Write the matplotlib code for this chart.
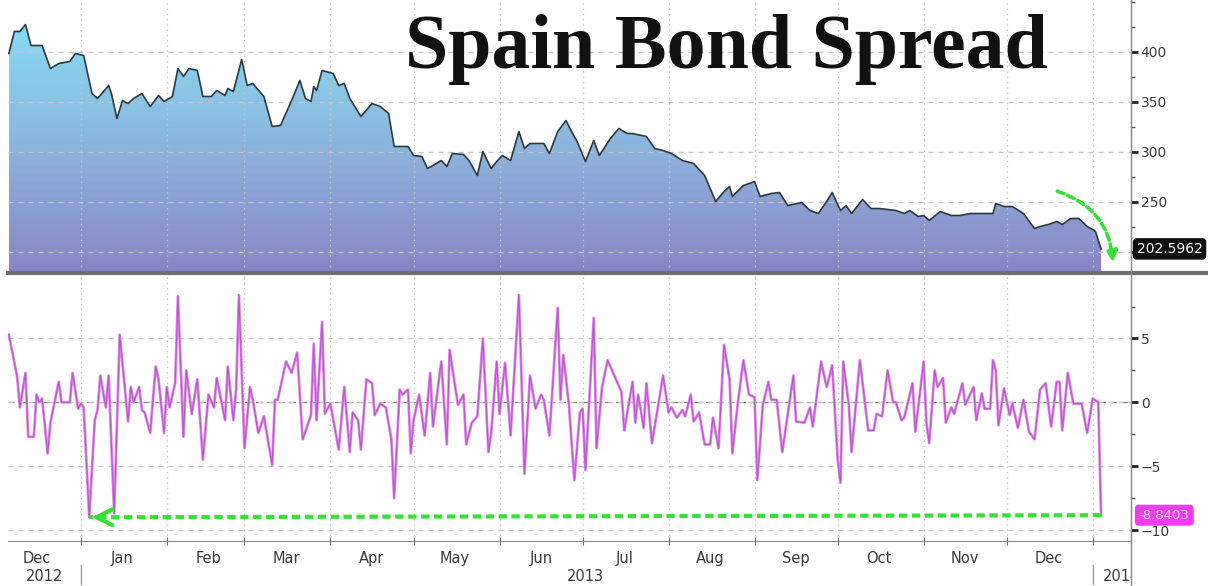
import matplotlib
matplotlib.use("Agg")
import matplotlib.pyplot as plt
import matplotlib.dates as mdates
import numpy as np
import pandas as pd
from matplotlib.colors import LinearSegmentedColormap
from matplotlib.lines import Line2D
from matplotlib.ticker import MultipleLocator, FixedLocator, NullFormatter, FuncFormatter
from matplotlib.transforms import Bbox, TransformedBbox, blended_transform_factory

start = pd.Timestamp("2013-01-01")

# Spain bond spread (bp), day numbers counted from 1 Jan 2013
spread_day = [-26, -24, -22, -20, -18, -14, -11, -8, -4, -2,
              1, 4, 6, 10, 11, 13, 15, 17, 19, 22,
              25, 28, 30, 33, 35, 37, 39, 42, 44, 47,
              49, 52, 53, 55, 58, 60, 62, 66, 69, 72,
              76, 79, 81, 83, 84, 85, 87, 91, 93, 95,
              97, 101, 105, 108, 111, 113, 118, 120, 123, 125,
              127, 130, 132, 134, 138, 140, 143, 145, 148, 150,
              152, 155, 158, 160, 162, 167, 169, 172, 175, 177,
              179, 182, 185, 187, 191, 194, 197, 199, 204, 207,
              210, 213, 217, 221, 225, 229, 232, 234, 235, 239,
              243, 245, 249, 252, 255, 260, 263, 266, 269, 271,
              274, 276, 278, 282, 285, 288, 291, 294, 297, 299,
              302, 304, 306, 310, 314, 317, 321, 324, 329, 330,
              333, 336, 340, 344, 346, 349, 352, 354, 357, 360,
              363, 365, 366, 368]
spread_bp = [398, 420, 420, 427, 406, 406, 383, 388, 390, 398,
             396, 358, 353, 366, 358, 333, 351, 348, 353, 358,
             345, 356, 350, 355, 383, 375, 383, 381, 355, 355,
             361, 356, 363, 360, 392, 366, 368, 355, 325, 326,
             351, 371, 353, 350, 365, 361, 381, 378, 366, 368,
             353, 335, 348, 345, 338, 305, 305, 296, 295, 283,
             286, 291, 285, 298, 297, 291, 276, 300, 283, 290,
             296, 291, 320, 303, 308, 308, 298, 320, 331, 320,
             310, 290, 311, 296, 313, 323, 318, 318, 315, 303,
             301, 298, 291, 288, 276, 250, 260, 265, 255, 266,
             270, 255, 258, 259, 246, 249, 241, 238, 250, 259,
             241, 246, 238, 252, 243, 243, 242, 241, 238, 241,
             235, 236, 231, 240, 236, 236, 238, 238, 238, 248,
             245, 245, 238, 223, 225, 227, 230, 227, 233, 233,
             225, 222, 220, 202.5962]

# daily change (bp)
change_day = [-26, -23, -22, -20, -19, -17, -16, -15, -14, -12,
              -11, -8, -7, -4, -3, -1, 0, 1, 3, 5,
              6, 7, 9, 10, 12, 14, 17, 18, 19, 21,
              22, 23, 25, 27, 28, 30, 31, 32, 34, 35,
              37, 38, 40, 42, 44, 46, 48, 49, 52, 53,
              55, 56, 57, 59, 61, 62, 64, 66, 69, 70,
              71, 74, 76, 78, 80, 83, 84, 85, 87, 88,
              90, 93, 95, 97, 98, 100, 101, 103, 105, 106,
              108, 110, 112, 113, 115, 116, 118, 119, 120, 122,
              124, 126, 127, 130, 132, 133, 136, 138, 139, 141,
              143, 145, 147, 148, 150, 151, 153, 155, 158, 160,
              162, 164, 166, 167, 169, 172, 173, 174, 176, 178,
              180, 181, 182, 185, 186, 188, 190, 195, 196, 199,
              200, 201, 203, 204, 206, 210, 212, 213, 215, 217,
              218, 220, 221, 223, 225, 227, 228, 230, 232, 234,
              235, 237, 239, 241, 243, 244, 246, 248, 249, 251,
              253, 255, 257, 258, 261, 263, 264, 267, 269, 270,
              271, 273, 274, 275, 277, 278, 281, 284, 286, 287,
              289, 291, 293, 294, 296, 297, 300, 301, 304, 305,
              306, 308, 309, 311, 312, 314, 315, 318, 319, 322,
              323, 325, 326, 328, 329, 330, 331, 333, 335, 336,
              338, 340, 342, 344, 346, 348, 350, 352, 353, 354,
              356, 358, 361, 363, 365, 367, 368]
change_bp = [5.3, 2.0, -0.4, 2.3, -2.7, -2.7, 0.6, 0.0, 0.3, -4.0,
             -1.6, 1.6, 0.0, 0.0, 2.3, -0.5, -0.1, -0.4, -9.0, -1.4,
             -0.6, 2.1, -0.4, 2.1, -8.7, 5.3, -1.5, 1.2, 0.0, 1.2,
             -0.6, -0.8, -2.4, 2.8, 1.8, -2.4, 1.2, -0.4, 1.5, 8.3,
             -2.7, 2.5, -0.9, 1.8, -4.5, 0.6, -0.4, 1.9, -1.4, 2.8,
             -1.4, 1.0, 8.4, -3.6, 1.2, 0.2, -2.4, -1.1, -4.9, 0.2,
             0.2, 3.2, 2.3, 3.9, -2.9, -1.0, 4.6, -1.4, 6.3, -0.9,
             -0.1, -3.7, 1.2, -3.9, -0.8, -1.4, -3.7, 1.8, 1.5, -1.0,
             -0.1, -0.4, -2.9, -7.5, 1.0, 0.6, 1.0, -4.0, -1.4, 0.6,
             -2.6, 2.3, -1.9, 3.2, -3.3, 4.1, -0.2, 0.6, -3.3, -1.6,
             -1.1, 5.0, -3.9, -2.4, 3.2, -0.9, 3.1, -2.6, 8.4, -5.6,
             2.1, -0.5, 0.6, 0.2, -2.6, 7.4, 0.2, 3.7, -0.1, -6.1,
             -0.8, -0.5, -5.3, 6.6, -3.6, 1.2, 3.3, 0.8, -2.2, 1.6,
             -1.6, 0.6, -2.0, 1.5, -3.2, 2.1, -0.8, -0.4, -1.2, -0.6,
             -1.1, 0.6, -1.5, -0.8, -3.3, -3.3, -1.2, -3.6, 4.5, 1.8,
             -4.0, 0.0, 3.3, 0.6, 0.4, -6.1, -0.2, 1.6, 0.2, 0.2,
             -3.9, -0.9, 2.1, -1.5, -1.6, -0.4, -1.9, 3.2, 1.2, 2.0,
             2.9, -4.5, -6.3, 3.2, -0.2, -3.9, 3.3, -2.2, -2.2, -0.9,
             -1.1, 2.5, 0.0, 0.0, -1.4, -1.2, 1.5, -2.3, 3.2, -1.6,
             -3.2, 2.5, 1.2, 1.9, -1.6, -0.4, -0.9, 1.5, -0.2, 1.2,
             -1.4, 0.7, -0.5, -0.5, 3.3, 2.5, -1.8, 1.1, -1.0, -0.1,
             -2.0, 0.2, -2.3, -2.9, 1.0, 1.5, -1.9, 1.6, 1.6, -2.2,
             2.3, -0.1, -0.1, -2.4, 0.3, 0.0, -8.8403]

spread_ticks = [200, 250, 300, 350, 400]
change_ticks = [-10, -5, 0, 5]
years = ["2012", "2013", "2014"]


def to_num(days):
    return mdates.date2num(start + pd.to_timedelta(np.asarray(days, dtype=float), unit="D"))


xs = to_num(spread_day)
xc = to_num(change_day)
xlim = to_num([-26.3, 378.8])

W, H = 1208, 586
fig = plt.figure(figsize=(W / 100, H / 100), dpi=100)
ax1 = fig.add_axes([8 / W, 1 - 272 / H, 1123 / W, 272 / H])
ax2 = fig.add_axes([8 / W, 1 - 541 / H, 1123 / W, 266 / H], sharex=ax1)

green = "#36e036"
grid_kw = dict(color="#c4c4c4", lw=0.9)

# ---- top panel: spread with gradient fill
poly = ax1.fill_between(xs, spread_bp, 170, facecolor="none", edgecolor="none")
cmap = LinearSegmentedColormap.from_list("sp", ["#8884c4", "#8db4dc", "#86dcf3"])
grad = np.linspace(0, 1, 256).reshape(-1, 1)
img = ax1.imshow(grad, extent=[xs[0], xs[-1], 175, 430], origin="lower",
                 aspect="auto", cmap=cmap, zorder=1)
img.set_clip_path(poly.get_paths()[0], transform=ax1.transData)
ax1.plot(xs, spread_bp, color="#2a3a40", lw=1.2, zorder=3)

ax1.set_xlim(xlim)
ax1.set_ylim(179.5, 451.5)
ax1.set_axisbelow(False)
ax1.yaxis.tick_right()
ax1.yaxis.set_major_locator(FixedLocator(spread_ticks))
# the 200 label sits under the last-value box
ax1.yaxis.set_major_formatter(FuncFormatter(lambda v, p: "" if v < spread_bp[-1] else f"{v:.0f}"))
ax1.yaxis.set_minor_locator(MultipleLocator(25))
ax1.grid(axis="y", which="major", ls=(0, (4, 4)), **grid_kw)
ax1.grid(axis="x", which="major", ls=(0, (1.2, 3)), **grid_kw)
for s in ["left", "top", "bottom"]:
    ax1.spines[s].set_visible(False)
ax1.spines["right"].set_color("#8a8a8a")

# ---- bottom panel: daily change
ax2.plot(xc, change_bp, color="#e08ae9", lw=2.0, zorder=3)
ax2.plot(xc, change_bp, color="#b756c8", lw=0.8, zorder=4)
ax2.set_ylim(-10.86, 9.97)
ax2.set_axisbelow(False)
ax2.yaxis.tick_right()
ax2.yaxis.set_major_locator(FixedLocator(change_ticks))
ax2.yaxis.set_minor_locator(MultipleLocator(2.5))
ax2.grid(axis="y", which="major", ls=(0, (4, 4)), **grid_kw)
ax2.grid(axis="x", which="major", ls=(0, (1.2, 3)), **grid_kw)
ax2.axhline(0, color="#8d8078", lw=0.9, ls=(0, (5, 4)), zorder=2)
for s in ["left", "top"]:
    ax2.spines[s].set_visible(False)
ax2.spines["right"].set_color("#8a8a8a")
ax2.spines["bottom"].set_color("#8a8a8a")

ax2.xaxis.set_major_locator(mdates.MonthLocator())
ax2.xaxis.set_major_formatter(NullFormatter())
ax2.xaxis.set_minor_locator(mdates.MonthLocator(bymonthday=16))
ax2.xaxis.set_minor_formatter(mdates.DateFormatter("%b"))

for ax in (ax1, ax2):
    ax.tick_params(axis="y", which="major", length=5, width=2, color="#222222",
                   labelsize=10, labelcolor="#3a3a3a", pad=2)
    ax.tick_params(axis="y", which="minor", length=3, width=1, color="#555555")
ax1.tick_params(axis="x", which="both", length=0, labelbottom=False)
ax2.tick_params(axis="x", which="major", direction="inout", length=6, color="#777777")
ax2.tick_params(axis="x", which="minor", length=0, labelsize=10.5,
                labelcolor="#3a3a3a", pad=7)

# year row
bt = blended_transform_factory(ax2.transData, ax2.transAxes)
yr_kw = dict(transform=bt, va="center", fontsize=10.5, color="#3a3a3a")
ax2.text(to_num([-13])[0], -0.133, years[0], ha="center", **yr_kw)
ax2.text(to_num([182])[0], -0.133, years[1], ha="center", **yr_kw)
t14 = ax2.text(to_num([368.5])[0], -0.133, years[2], ha="left", clip_on=True, **yr_kw)
t14.set_clip_box(TransformedBbox(Bbox([[0, 0], [1131 / W, 1]]), fig.transFigure))
for d in (0, 365):
    ax2.plot([to_num([d])[0]] * 2, [-0.09, -0.16], color="#9a9a9a", lw=1,
             transform=bt, clip_on=False)

# last-value labels
ax1.text(1.005, spread_bp[-1], f"{spread_bp[-1]:.4f}",
         transform=blended_transform_factory(ax1.transAxes, ax1.transData),
         ha="left", va="center", color="white", fontsize=10, clip_on=False, zorder=10,
         bbox=dict(boxstyle="round,pad=0.22", fc="#111111", ec="#111111"))
ax2.text(1.007, change_bp[-1], f"{change_bp[-1]:.4f}",
         transform=blended_transform_factory(ax2.transAxes, ax2.transData),
         ha="left", va="center", color="#ffd2ff", fontsize=9.5, clip_on=False, zorder=10,
         bbox=dict(boxstyle="round,pad=0.25", fc="#ee3cee", ec="#ee3cee"))

# green annotations
imin = int(np.argmin(change_bp))
ax2.plot([xc[-1], xc[imin]], [change_bp[-1], change_bp[imin]], color=green,
         lw=3, ls=(0, (2, 1.1)), zorder=6)
ax2.annotate("", xy=(xc[imin], change_bp[imin]), xytext=(xc[imin] + 5, change_bp[imin]),
             arrowprops=dict(arrowstyle="->", color=green, lw=3, mutation_scale=28),
             zorder=6)
ax1.annotate("", xy=(0.984, 0.025), xytext=(0.932, 0.30), xycoords="axes fraction",
             arrowprops=dict(arrowstyle="-|>", color=green, lw=2.6, ls=(0, (2, 1.1)),
                             connectionstyle="arc3,rad=-0.35", mutation_scale=16),
             zorder=6)

# panel separator and right rule
fig.add_artist(Line2D([8 / W, 1], [1 - 272.5 / H] * 2, lw=3, color="#6e6e6e",
                      transform=fig.transFigure))
fig.add_artist(Line2D([1131 / W] * 2, [0, 1], lw=1, color="#8a8a8a",
                      transform=fig.transFigure))

fig.text(405 / W, 1 - 68 / H, "Spain Bond Spread", ha="left", va="baseline",
         fontsize=56, fontweight="bold", family="Liberation Serif", color="#111111")

fig.savefig("out.png", dpi=100)
